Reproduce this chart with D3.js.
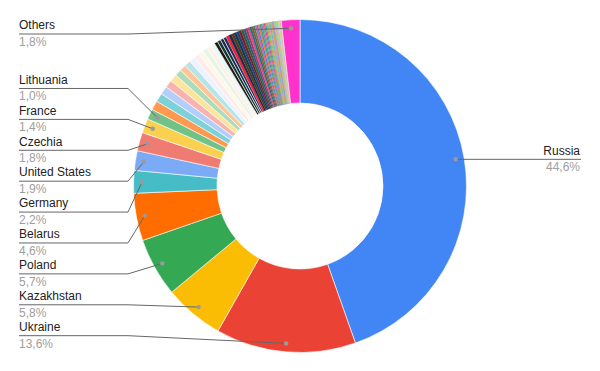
<!DOCTYPE html>
<html>
<head>
<meta charset="utf-8">
<script src="https://cdn.jsdelivr.net/npm/d3@7"></script>
<style>
  html, body { margin: 0; padding: 0; background: #fff; }
  svg { display: block; }
  text { font-family: Arial, "Liberation Sans", sans-serif; font-size: 12px; }
</style>
</head>
<body>
<div id="chart"></div>
<script>
// ---- data ----
const categories = ["Russia", "Ukraine", "Kazakhstan", "Poland", "Belarus", "Germany",
  "United States", "Czechia", "France", "Lithuania"];
const values = [44.6, 13.6, 5.8, 5.7, 4.6, 2.2, 1.9, 1.8, 1.4, 1.0];
// unlabeled small slices (too thin for a label), in chart order
const smallValues = [0.9, 0.85, 0.8, 0.75, 0.7, 0.66, 0.63, 0.6, 0.56, 0.53, 0.5, 0.47, 0.44, 0.41,
  0.34, 0.33, 0.31, 0.3, 0.28, 0.27, 0.26, 0.25, 0.25, 0.24, 0.23, 0.22, 0.21, 0.2, 0.19, 0.18,
  0.17, 0.16, 0.15, 0.15, 0.14, 0.13, 0.13, 0.12, 0.12, 0.11, 0.11, 0.1, 0.1, 0.09, 0.09, 0.08,
  0.08, 0.08, 0.07, 0.07, 0.07, 0.06, 0.06, 0.06, 0.05, 0.05, 0.05, 0.05, 0.04];
const othersLabel = "Others";
const othersValue = 1.8;

const palette = ["#4285f4", "#ea4335", "#fbbc04", "#34a853", "#ff6d01", "#46bdc6", "#7baaf7",
  "#f07b72", "#fcd04f", "#71c287", "#ff994d", "#7ed1d7", "#b3cefb", "#f7b4ae", "#fde49b",
  "#aedcba", "#ffc599", "#b5e5e8", "#ecf3fe", "#fdeceb", "#fff8e6", "#e6f4ea", "#fff0e6", "#e8f7f8",
  "#231a12", "#0e3a33", "#1b2a48", "#23305e", "#f4243a", "#1d2d50", "#5a3a1a", "#0d3f4f",
  "#2a3f7a", "#7a1f2f", "#3b5b2a", "#2a5d8f", "#a33b5f", "#d94f8a", "#1f6f8b", "#8b5a2b",
  "#3c8d5e", "#e25c9b", "#4a7fd1", "#f07a3a", "#2aa198", "#9c6ad0", "#5fb65f", "#e84d8a",
  "#3f9fd8", "#c9a227", "#7cc36e", "#f28db2", "#54b3c7", "#a0c15a", "#ff8a4c", "#6aa0e8",
  "#d86fd0", "#8fd18c", "#f5a35c", "#70c6c0", "#b2d46a", "#f39bd0", "#9bbcf0", "#c7e08a",
  "#ffb27a", "#a0dcd2", "#d2c46a", "#e8a0e0", "#b8e0a0"];
const othersColor = "#ff33cc";

// ---- build rows ----
const rows = [];
categories.forEach((c, i) => rows.push({ name: c, value: values[i], color: palette[i] }));
smallValues.forEach((v, i) => rows.push({ name: null, value: v, color: palette[categories.length + i] || "#aaa" }));
rows.push({ name: othersLabel, value: othersValue, color: othersColor });

const W = 600, H = 371;
const cx = 300, cy = 186, R = 166.5, r0 = 83, dotR = 158;

const svg = d3.select("#chart").append("svg").attr("width", W).attr("height", H);
const g = svg.append("g").attr("transform", `translate(${cx},${cy})`);

const pie = d3.pie().sort(null).value(d => d.value).startAngle(0).endAngle(2 * Math.PI);
const arcs = pie(rows);
const arc = d3.arc().innerRadius(r0).outerRadius(R);

g.selectAll("path.slice").data(arcs).enter().append("path")
  .attr("class", "slice")
  .attr("d", arc)
  .attr("fill", d => d.data.color)
  .attr("stroke", d => d.data.value >= 0.3 ? "#fff" : d.data.color)
  .attr("stroke-width", d => d.data.value >= 0.3 ? 0.6 : 0.2);

// ---- labels ----
const fmt = v => d3.format(".1f")(v).replace(".", ",") + "%";
const total = d3.sum(rows, d => d.value);
const labeled = arcs.filter(d => d.data.name).map(d => {
  const a = (d.startAngle + d.endAngle) / 2;
  const dx = cx + Math.sin(a) * dotR, dy = cy - Math.cos(a) * dotR;
  return { d, a, dx, dy, side: a < Math.PI ? "right" : "left", pct: d.data.value / total * 100 };
});

const spacing = 30.9, minY = 34, maxY = 336;
function layout(items) {
  items.sort((p, q) => p.dy - q.dy);
  let clusters = items.map(it => ({ items: [it] }));
  const place = c => {
    const n = c.items.length;
    let center = d3.mean(c.items, it => it.dy) + (n > 1 ? 5 : 0);
    let top = center - (n - 1) * spacing / 2;
    top = Math.max(minY, Math.min(maxY - (n - 1) * spacing, top));
    c.top = top;
  };
  let merged = true;
  while (merged) {
    merged = false;
    clusters.forEach(place);
    for (let i = 0; i < clusters.length - 1; i++) {
      const a = clusters[i], b = clusters[i + 1];
      const bottomA = a.top + (a.items.length - 1) * spacing;
      if (b.top - bottomA < spacing * 1.2) {
        clusters.splice(i, 2, { items: a.items.concat(b.items) });
        merged = true;
        break;
      }
    }
  }
  clusters.forEach(c => c.items.forEach((it, k) => it.ly = c.top + k * spacing));
}
layout(labeled.filter(l => l.side === "left"));
layout(labeled.filter(l => l.side === "right"));

const lx = 19, lElbow = 128, rx = 581, rElbow = 472;
const lab = svg.append("g");
labeled.forEach(l => {
  const left = l.side === "left";
  const x0 = left ? lx : rx, xe = left ? lElbow : rElbow;
  lab.append("path")
    .attr("d", d3.line()([[x0, l.ly], [xe, l.ly], [l.dx, l.dy]]))
    .attr("fill", "none").attr("stroke", "#666").attr("stroke-width", 1);
  lab.append("circle").attr("cx", l.dx).attr("cy", l.dy).attr("r", 2.2).attr("fill", "#9a9a9a");
  lab.append("text")
    .attr("x", left ? lx : rx - 1).attr("y", l.ly - 4.7)
    .attr("text-anchor", left ? "start" : "end")
    .attr("fill", "#222").text(l.d.data.name);
  lab.append("text")
    .attr("x", left ? lx : rx - 1).attr("y", l.ly + 12)
    .attr("text-anchor", left ? "start" : "end")
    .attr("fill", "#9e9e9e").text(fmt(l.pct));
});
</script>
</body>
</html>
